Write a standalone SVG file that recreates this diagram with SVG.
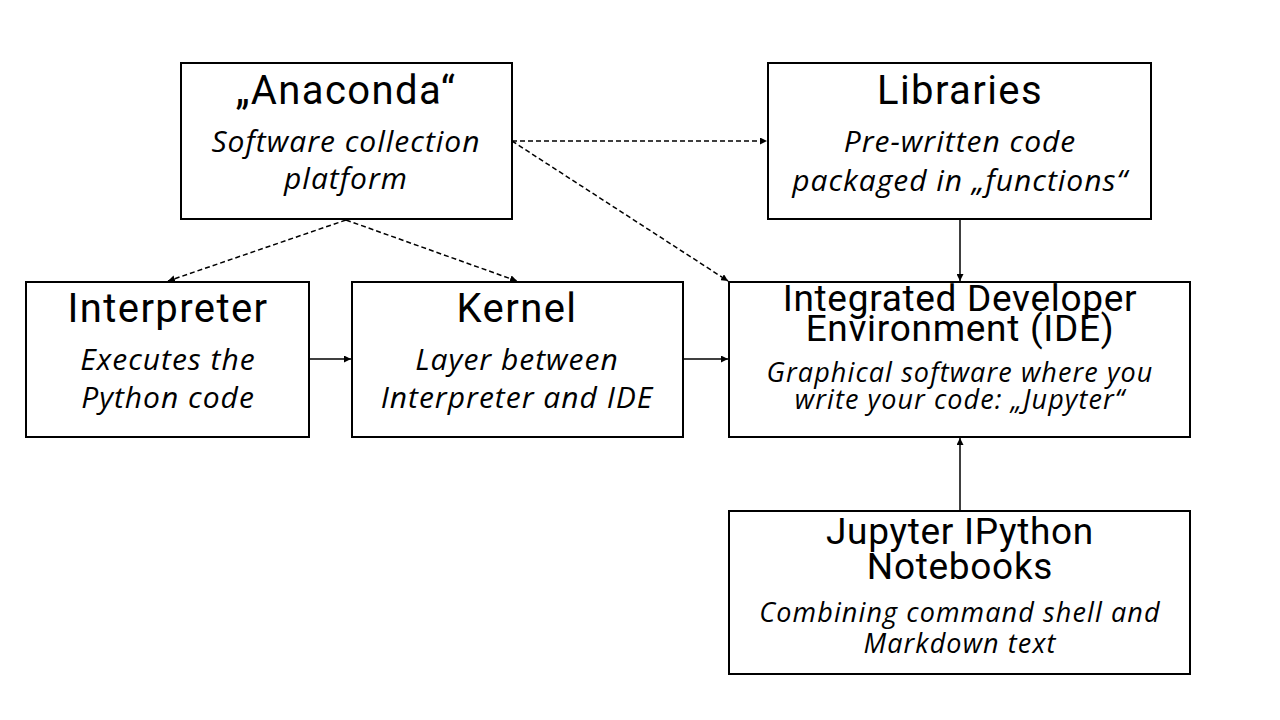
<svg xmlns="http://www.w3.org/2000/svg" width="1280" height="720" viewBox="0 0 1280 720">
<style>
.box{fill:#fff;stroke:#000;stroke-width:2}
.t{font-family:Roboto,"Liberation Sans",sans-serif;font-size:40px;letter-spacing:1.4px;text-anchor:middle;fill:#000}
.t2{font-family:Roboto,"Liberation Sans",sans-serif;font-size:37px;letter-spacing:0.7px;text-anchor:middle;fill:#000}
.d{font-family:"Open Sans","Liberation Sans",sans-serif;font-style:italic;font-size:30px;letter-spacing:1px;text-anchor:middle;fill:#000}
.d2{font-family:"Open Sans","Liberation Sans",sans-serif;font-style:italic;font-size:27px;letter-spacing:1.1px;text-anchor:middle;fill:#000}
.c{fill:none;stroke:#000;stroke-width:1.5}
.dash{stroke-dasharray:5,3}
</style>
<defs>
<marker id="ah" viewBox="0 0 10 10" refX="10" refY="5" markerWidth="7" markerHeight="7" markerUnits="userSpaceOnUse" orient="auto">
<path d="M0,0 L10,5 L0,10 z" fill="#000"/>
</marker>
</defs>
<rect width="1280" height="720" fill="#fff"/>
<g id="connectors">
<line class="c dash" x1="512" y1="141" x2="767" y2="141" marker-end="url(#ah)"/>
<line class="c dash" x1="512" y1="141" x2="728" y2="281" marker-end="url(#ah)"/>
<line class="c dash" x1="346" y1="220" x2="168" y2="281" marker-end="url(#ah)"/>
<line class="c dash" x1="346" y1="220" x2="517" y2="281" marker-end="url(#ah)"/>
<line class="c" x1="960" y1="220" x2="960" y2="281" marker-end="url(#ah)"/>
<line class="c" x1="310" y1="359" x2="351" y2="359" marker-end="url(#ah)"/>
<line class="c" x1="684" y1="359" x2="728" y2="359" marker-end="url(#ah)"/>
<line class="c" x1="960" y1="510" x2="960" y2="438" marker-end="url(#ah)"/>
</g>
<g id="anaconda">
<rect class="box" x="181" y="63" width="331" height="156"/>
<text class="t" x="346" y="104">„Anaconda“</text>
<text class="d" x="346" y="152">Software collection</text>
<text class="d" x="346" y="189">platform</text>
</g>
<g id="libraries">
<rect class="box" x="768" y="63" width="383" height="156"/>
<text class="t" x="960" y="104">Libraries</text>
<text class="d" x="960" y="152">Pre-written code</text>
<text class="d" x="960" y="191">packaged in „functions“</text>
</g>
<g id="interpreter">
<rect class="box" x="26" y="282" width="283" height="155"/>
<text class="t" x="168" y="322">Interpreter</text>
<text class="d" x="168" y="370">Executes the</text>
<text class="d" x="168" y="408">Python code</text>
</g>
<g id="kernel">
<rect class="box" x="352" y="282" width="331" height="155"/>
<text class="t" x="517" y="322">Kernel</text>
<text class="d" x="517" y="370">Layer between</text>
<text class="d" x="517" y="408">Interpreter and IDE</text>
</g>
<g id="ide">
<rect class="box" x="729" y="282" width="461" height="155"/>
<text class="t2" x="960" y="311">Integrated Developer</text>
<text class="t2" x="960" y="341">Environment (IDE)</text>
<text class="d2" x="960" y="382">Graphical software where you</text>
<text class="d2" x="960" y="409">write your code: „Jupyter“</text>
</g>
<g id="jupyter">
<rect class="box" x="729" y="511" width="461" height="163"/>
<text class="t2" x="960" y="544">Jupyter IPython</text>
<text class="t2" x="960" y="579">Notebooks</text>
<text class="d2" x="960" y="622">Combining command shell and</text>
<text class="d2" x="960" y="653">Markdown text</text>
</g>
</svg>
